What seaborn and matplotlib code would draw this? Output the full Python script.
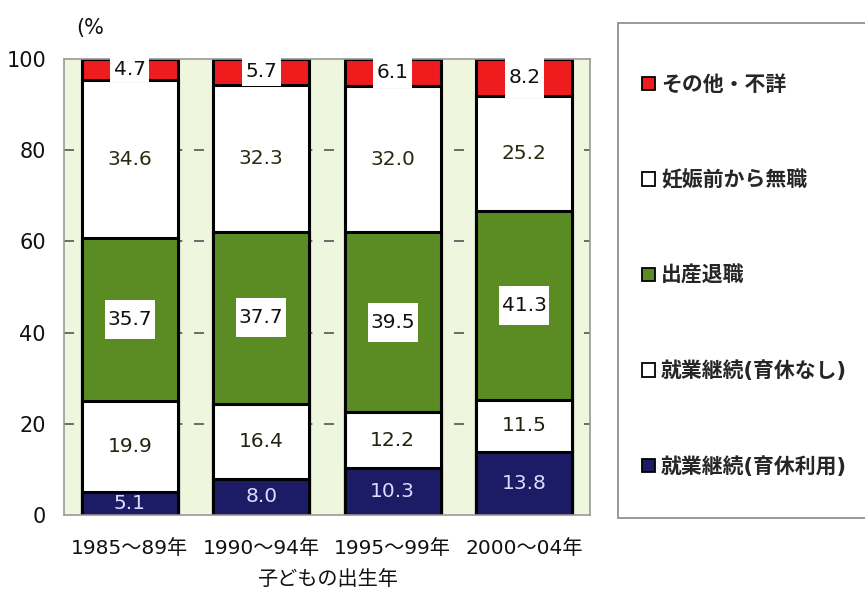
import matplotlib
matplotlib.use("Agg")
import matplotlib.pyplot as plt
from matplotlib.patches import Patch, Rectangle
import numpy as np
import pandas as pd
import seaborn as sns

categories = ["1985～89年", "1990～94年", "1995～99年", "2000～04年"]
series_names = ["就業継続(育休利用)", "就業継続(育休なし)", "出産退職", "妊娠前から無職", "その他・不詳"]
ikukyu_riyou = [5.1, 8.0, 10.3, 13.8]
ikukyu_nashi = [19.9, 16.4, 12.2, 11.5]
shussan_taishoku = [35.7, 37.7, 39.5, 41.3]
ninshin_mae_mushoku = [34.6, 32.3, 32.0, 25.2]
sonota = [4.7, 5.7, 6.1, 8.2]
yticks = [0, 20, 40, 60, 80, 100]

series_values = [ikukyu_riyou, ikukyu_nashi, shussan_taishoku, ninshin_mae_mushoku, sonota]
colors = ["#1c1c66", "#ffffff", "#5a8c23", "#ffffff", "#ee1c1c"]
text_colors = ["#dcdcff", "#222211", "#111111", "#2a2a10", "#111111"]

sns.set_theme(style="white")
plt.rcParams["font.family"] = ["DejaVu Sans", "Noto Sans CJK JP"]

W, H = 865, 590
fig = plt.figure(figsize=(W / 100, H / 100), dpi=100)
ax = fig.add_axes([64 / W, 1 - 515 / H, 526 / W, 456 / H])
ax.set_facecolor("#eef6de")

BAR_W = 0.73
# cumulative tops, drawn tallest first so each lower segment sits on top
cum = np.cumsum(np.array(series_values), axis=0)
df = pd.DataFrame({"cat": categories})
for i in range(len(series_values) - 1, -1, -1):
    df["top"] = cum[i]
    sns.barplot(data=df, x="cat", y="top", color=colors[i], saturation=1,
                width=BAR_W, edgecolor="black", linewidth=2.2, ax=ax, zorder=2)

# segment value labels
for i, vals in enumerate(series_values):
    bottoms = cum[i] - np.array(vals)
    for j, v in enumerate(vals):
        yc = bottoms[j] + v / 2
        if i == 4:
            # white window across the whole red cap
            ax.add_patch(Rectangle((j - 0.15, bottoms[j] - 0.4), 0.30, 100.6 - bottoms[j] + 0.4,
                                   fc="white", ec="none", zorder=4, clip_on=False))
            yc = (bottoms[j] + 100) / 2
        elif i == 2:
            ax.add_patch(Rectangle((j - 0.19, yc - 4.3), 0.38, 8.6,
                                   fc="white", ec="none", zorder=4))
        ax.text(j, yc, f"{v:.1f}", ha="center", va="center", fontsize=14.5,
                color=text_colors[i], zorder=5)

ax.set_ylim(0, 100)
ax.set_xlim(-0.5, 3.5)
ax.set_yticks(yticks)
ax.set_yticklabels([str(t) for t in yticks], fontsize=15, color="#111111")
ax.tick_params(axis="y", length=0, pad=13)
ax.set_xticks(range(len(categories)))
ax.set_xticklabels(categories)
ax.tick_params(axis="x", length=0, pad=17, labelsize=14.5, labelcolor="#111111")
ax.set_xticks([0.5, 1.5, 2.5], minor=True)
ax.tick_params(axis="x", which="minor", direction="in", length=5, width=1.2, color="#555555")
ax.set_xlabel("")
ax.set_ylabel("")
for y in yticks[1:-1]:
    ax.axhline(y, color="#555555", lw=1.2, ls=(0, (6, 7)), zorder=1)
for s in ax.spines.values():
    s.set_color("#999999")
    s.set_linewidth(1.2)

fig.text(76 / W, 1 - 28 / H, "(%", fontsize=15, ha="left", va="center", color="#111111")
fig.text(327 / W, 1 / H, "子どもの出生年", fontsize=14.5, ha="center", va="bottom",
         color="#111111")

# legend panel
fig.patches.append(Rectangle((618 / W, 1 - 518 / H), 260 / W, 495 / H,
                             transform=fig.transFigure, fc="white", ec="#888888",
                             lw=1.2, figure=fig))
handles = [Patch(facecolor=colors[i], edgecolor="black", linewidth=1.3)
           for i in range(4, -1, -1)]
labels = [series_names[i] for i in range(4, -1, -1)]
fig.legend(handles, labels, loc="upper left", bbox_to_anchor=(642 / W, 1 - 75 / H),
           frameon=False, prop={"size": 15, "weight": "bold"},
           handlelength=0.6, handleheight=0.6,
           handletextpad=0.3, labelspacing=3.6, borderpad=0, borderaxespad=0)

fig.savefig("out.png", dpi=100)
